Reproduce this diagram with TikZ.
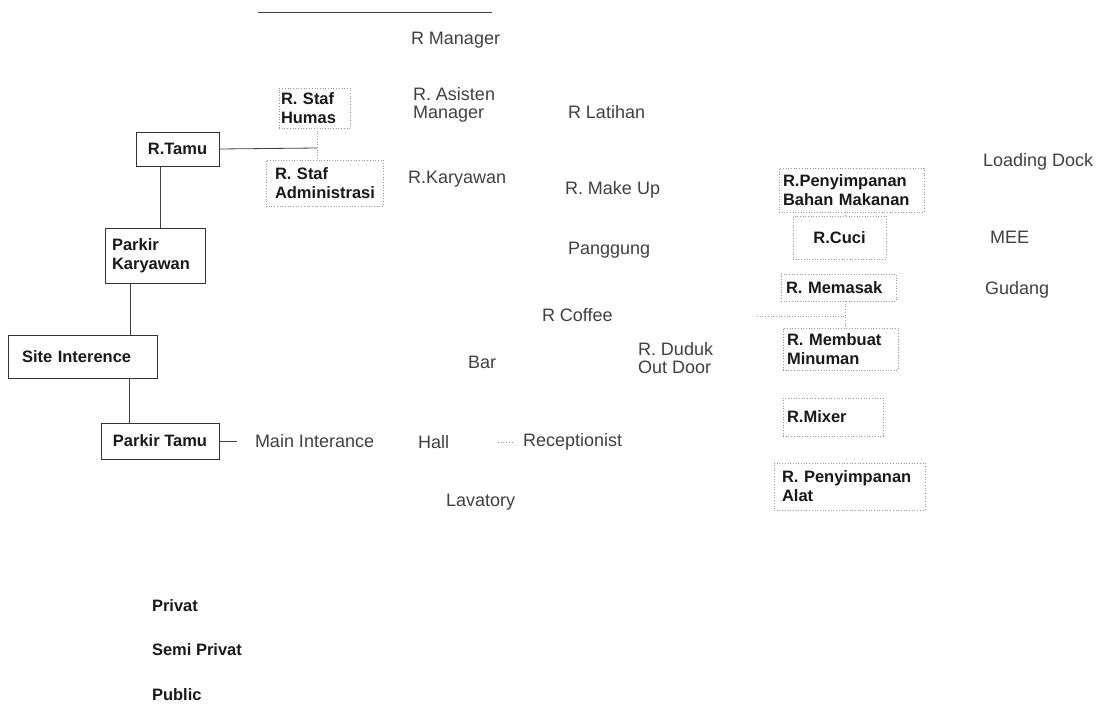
\documentclass[tikz,border=0pt]{standalone}
\usepackage{fontspec}
\setmainfont{Liberation Sans}
\begin{document}
\begin{tikzpicture}[x=1pt,y=-1pt,
  every node/.style={inner sep=0pt, outer sep=0pt},
  boldtxt/.style={font=\fontsize{16.5}{19}\selectfont\bfseries, text=black!90},
  lighttxt/.style={font=\fontsize{18}{18}\selectfont, text=black!75, anchor=west, align=left},
  solidbox/.style={boldtxt, draw=black!80, line width=0.9pt},
  dotbox/.style={boldtxt, draw=black!40, dotted, line width=0.7pt},
  link/.style={draw=black!75, line width=0.8pt},
  faintlink/.style={draw=black!40, dotted, line width=0.7pt},
]
\useasboundingbox[fill=white] (0,0) rectangle (1099,705);

% top rule
\draw[link] (258,12) -- (492,12);

% ---- entrance chain (left column)
\node[solidbox, minimum width=83, minimum height=34] (tamu) at (177.5,149) {R.Tamu};
\node[solidbox, minimum width=100, minimum height=55, inner xsep=7, text width=86, align=left] (pk) at (155,255.5) {Parkir\\Karyawan};
\node[solidbox, minimum width=149, minimum height=43, inner xsep=14, text width=121, align=left] (site) at (82.5,356.5) {Site Interence};
\node[solidbox, minimum width=118, minimum height=36] (ptamu) at (160,441) {Parkir Tamu};

\draw[link] ([xshift=-17.5]tamu.south) -- ([xshift=-17.5]tamu.south |- pk.north);
\draw[link] ([xshift=-25]pk.south) -- ([xshift=-25]pk.south |- site.north);
\draw[link] ([xshift=-31]ptamu.north) -- ([xshift=-31]ptamu.north |- site.south);

% ---- staff rooms
\node[dotbox, minimum width=71, minimum height=40, inner xsep=2, text width=67, align=left] (humas) at (314.5,108) {R. Staf\\Humas};
\node[dotbox, minimum width=117, minimum height=46, inner xsep=9, text width=99, align=left] (stadm) at (324.5,183) {R. Staf\\Administrasi};
\coordinate (sj) at (317,148);
\draw[link] (tamu.east) -- (sj);
\draw[faintlink] (humas.south -| sj) -- (stadm.north -| sj);

\node[lighttxt] (mgr) at (411,40) {R Manager};
\node[lighttxt] (asmgr) at (413,105) {R. Asisten\\Manager};
\node[lighttxt] (kary) at (408,179) {R.Karyawan};

% ---- performance / cafe area
\node[lighttxt] (latihan) at (568,112) {R Latihan};
\node[lighttxt] (makeup) at (565,190) {R. Make Up};
\node[lighttxt] (panggung) at (568,250) {Panggung};
\node[lighttxt] (coffee) at (542,315) {R Coffee};
\node[lighttxt] (bar) at (468,362) {Bar};
\node[lighttxt] (duduk) at (638,358) {R. Duduk\\Out Door};

% ---- entrance hall
\node[lighttxt] (main) at (255,441) {Main Interance};
\node[lighttxt] (hall) at (418,442) {Hall};
\node[lighttxt] (recep) at (523,442) {Receptionist};
\node[lighttxt] (lav) at (446,502) {Lavatory};
\coordinate (pe) at (237,441);
\draw[link] (ptamu.east) -- (pe);
\draw[faintlink] ([xshift=49]hall.east) -- ([xshift=-10]recep.west);

% ---- kitchen / service
\node[dotbox, minimum width=145, minimum height=44, inner xsep=4, text width=137, align=left] (bahan) at (851.5,190) {R.Penyimpanan\\Bahan Makanan};
\node[dotbox, minimum width=93, minimum height=43] (cuci) at (839.5,237.5) {R.Cuci};
\node[dotbox, minimum width=115, minimum height=27, inner xsep=5, text width=105, align=left] (memasak) at (838.5,287.5) {R. Memasak};
\node[dotbox, minimum width=115, minimum height=42, inner xsep=4, text width=107, align=left] (membuat) at (840.5,349) {R. Membuat\\Minuman};
\node[dotbox, minimum width=100, minimum height=38, inner xsep=4, text width=92, align=left] (mixer) at (833,417) {R.Mixer};
\node[dotbox, minimum width=151, minimum height=47, inner xsep=8, text width=135, align=left] (alat) at (849.5,486.5) {R. Penyimpanan\\Alat};

\coordinate (kx) at (845,316);
\coordinate (cf) at (757,316);
\draw[faintlink] (bahan.south -| kx) -- (cuci.north -| kx);
\draw[faintlink] (memasak.south -| kx) -- (membuat.north -| kx);
\draw[faintlink] (cf) -- (kx);

\node[lighttxt] (dock) at (983,162) {Loading Dock};
\node[lighttxt] (mee) at (990,237) {MEE};
\node[lighttxt] (gudang) at (985,290) {Gudang};

% ---- legend
\node[boldtxt, anchor=west] (privat) at (152,606) {Privat};
\node[boldtxt, anchor=west] (semi) at (152,650) {Semi Privat};
\node[boldtxt, anchor=west] (public) at (152,695) {Public};
\end{tikzpicture}
\end{document}
